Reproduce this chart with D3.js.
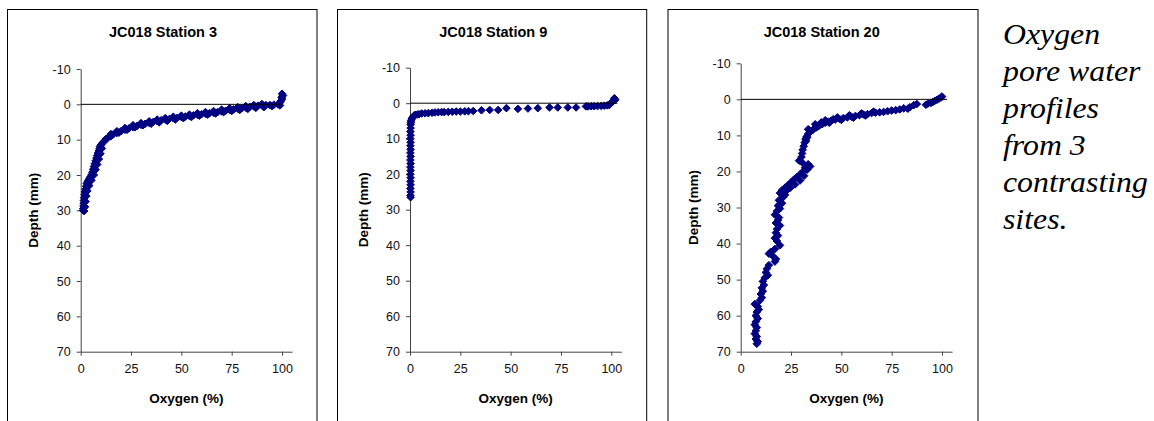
<!DOCTYPE html>
<html>
<head>
<meta charset="utf-8">
<script src="https://cdn.jsdelivr.net/npm/d3@7"></script>
<style>
  body { margin: 0; background: #fff; }
  svg { display: block; }
  .tick text { font-family: Arial, "Liberation Sans", sans-serif; font-size: 12.5px; fill: #111; }
  .axis path, .axis line { stroke: #444; }
  .title { font-family: Arial, "Liberation Sans", sans-serif; font-weight: bold; font-size: 14.5px; }
  .axtitle { font-family: Arial, "Liberation Sans", sans-serif; font-weight: bold; font-size: 13.5px; }
  .caption { font-family: "Liberation Serif", "Times New Roman", Times, serif; font-style: italic; font-size: 30px; }
</style>
</head>
<body>
<svg width="1154" height="421"></svg>
<script>
// Chart titles and shared axes
const titles = ["JC018 Station 3", "JC018 Station 9", "JC018 Station 20"];
const xTicks = [0, 25, 50, 75, 100];
const yTicks = [-10, 0, 10, 20, 30, 40, 50, 60, 70];
const captionLines = ["Oxygen", "pore water", "profiles", "from 3", "contrasting", "sites."];
// where the zero (sediment surface) line stops, in % oxygen
const zeroLineEnd = [100, 103, 102.5];

// [oxygen %, depth mm]
const station3 = [
  [100,-3],[100.5,-2.5],[99.8,-2],[100,-1.5],[99.5,-1],[99,-0.5],[98,0],[99,0.3],
  [96,0.1],[94,0.2],[92,0.2],[90,0.3],[88,0.4],[86,0.6],[84,0.7],[82,0.9],[80,1.1],[78,1.2],[76,1.4],
  [95,0.5],[91,0.8],[87,1.0],[83,1.3],[79,1.6],[75,1.9],[71,2.2],[67,2.6],[63,2.9],[59,3.2],[55,3.6],
  [90,-0.1],[86,0.2],[82,0.5],[78,0.8],[74,1.1],[70,1.5],[66,1.9],[62,2.2],[58,2.5],[54,2.9],
  [50,3.2],[46,3.5],[42,3.9],[38,4.3],[34,4.8],[30,5.3],[26,5.9],[22,6.7],[18,7.6],[15,8.4],
  [74,1.6],[72,1.8],[70,2.0],[68,2.2],[66,2.35],[64,2.5],[62,2.65],[60,2.8],[58,2.95],[56,3.1],[54,3.3],
  [52,3.45],[50,3.6],[48,3.8],[46,3.95],[44,4.15],[42,4.3],[40,4.5],[38,4.75],[36,5.0],[34,5.25],[32,5.5],
  [51,3.9],[47,4.3],[43,4.7],[39,5.1],[35,5.5],[31,5.9],[27,6.5],[23,7.2],[19,8.0],[15,9.0],[12.5,9.8],
  [30,5.8],[28,6.1],[26,6.45],[24,6.8],[22,7.2],[20,7.6],[18,8.1],[16,8.6],[14.5,9.1],[13,9.7],[12,10.3],
  [11,10.8],[10.2,11.4],[9.8,11.8],[9.6,12.0],[9.3,12.6],[9.0,13.2],[8.6,13.8],[8.2,14.5],[7.8,15.2],[7.4,16.0],
  [10.5,12.5],[9.8,14],[9.0,15.5],[8.2,17],[7.4,18.5],[6.5,20],[5.3,21.5],[4.2,23],[3.3,24.5],[2.7,26],
  [2.3,27.5],[2.0,29],[1.7,30.2],
  [7.0,16.8],[6.6,17.6],[6.2,18.4],[5.8,19.2],[5.3,20.0],[4.7,20.6],[4.1,21.2],[3.5,21.8],[3.0,22.4],
  [6.0,19.8],[4.9,21.5],[3.8,23.0],[3.0,24.5],[2.6,26.0],[2.2,27.5],[2.0,29.0],
  [2.7,23.2],[2.4,24.0],[2.1,24.8],[1.9,25.6],[1.7,26.4],[1.6,27.2],[1.5,28.0],[1.4,28.8],[1.3,29.5],[1.2,30.0]
];

const station9 = [
  [101.5,-1.4],[102,-1.0],[101,-0.6],[100,-0.2],[99,0.5],[98,0.6],[96.5,0.7],[95,0.75],[93.2,0.8],
  [91.5,0.85],[90,0.85],[88.5,0.9],[87.4,0.9],[82.5,1.2],[78.4,1.2],[73.4,1.2],[69.3,1.2],[63.5,1.4],
  [58.6,1.5],[53.6,1.6],[47.9,1.4],[43.8,1.9],[39.6,1.9],[35.5,2.0],[31.4,2.2],[29,2.25],[27.2,2.3],
  [25,2.35],[23,2.35],[21,2.4],[19,2.45],[17,2.5],[15.7,2.5],[14,2.55],[12.4,2.6],[11,2.7],[9.1,2.8],
  [7.5,2.85],[5.8,2.9],[4.5,3.1],[3.5,3.2],[2.5,3.3],[1.8,3.6],[1.2,4.0],[0.8,4.5],[0.5,5.0],[0.4,5.5],
  [0.3,6],[0.3,7],[0.2,8],[0.3,9],[0.2,10],[0.3,11],[0.2,12],[0.3,13],[0.2,14],[0.3,15],[0.2,16],
  [0.3,17],[0.2,18],[0.3,19],[0.2,20],[0.3,21],[0.2,22],[0.3,23],[0.2,24],[0.3,25],[0.2,26],[0.3,26.5]
];

const station20 = [
  [100,-0.8],[99.5,-0.5],[98.5,-0.2],[97.5,0.1],[96.5,0.4],[95.5,0.7],[94.5,1.0],[93,1.2],[92,1.5],
  [87.5,1.3],[86,1.6],[84,2.2],[83,2.6],[81,2.5],[79,2.8],[77,3.0],[75,3.1],[73,3.3],[71,3.5],[69,3.6],
  [67,3.7],[65,3.8],[63,4.1],[61,4.2],[59,4.4],[57,4.6],[55,4.8],[53,5.0],[51,5.2],[49,5.4],[47,5.6],
  [45,5.9],[43.5,6.2],[42,6.5],[40.5,6.9],[39,7.3],[37.5,7.8],[36,8.4],[34.5,9.0],[33.5,9.6],[32.8,10.3],
  [62,4.5],[56,5.1],[50,5.7],[44,6.5],[38,7.6],[35,8.8],[33,10.6],[32.5,11.5],[34,8.5],[40,6.4],[46,5.5],
  [66,3.4],[60,3.9],[54,4.4],[48,5.0],[42,5.8],[37,6.9],[33.5,8.3],
  [32.2,11.0],[31.8,12.0],[31.3,13.0],[30.8,14.0],[30.5,15.0],[30.2,16.0],[29,17.0],[30.5,17.5],
  [33.5,18.0],[34.5,18.6],[32,19.0],[33,19.5],[31,20.0],[29.5,20.8],[28,21.5],[26.5,22.2],[25,23.0],
  [31.5,21.2],[29.5,22.5],[27,23.6],[24.5,24.6],[22.5,25.5],
  [23.5,23.8],[22,24.5],[20.5,25.2],[19.5,26.0],[22,26.5],[21,27.2],[19,28.0],[20.5,28.8],[18.5,29.5],
  [19.5,30.3],[18,31.0],[17,32.0],[19,32.8],[18.5,33.5],[17.5,34.3],[19.5,35.0],[18,36.0],[17.5,37.0],
  [18.5,37.8],[17,38.5],[18,39.3],[19.5,40.5],[17,41.5],[15,42.3],[14,42.8],[16,43.5],[17.5,44.3],
  [17,45.0],[14,46.0],[13,47.0],[12.5,48.0],[13.5,48.8],[12,49.5],[11,50.5],[11.5,51.5],[10.5,52.3],
  [11,53.2],[10,54.0],[10.5,55.0],[9.5,55.8],[7,56.8],[8.5,57.5],[9,58.3],[8,59.0],[7.5,60.0],[8.5,60.8],
  [7.5,61.7],[7,62.5],[8,63.3],[7.5,64.2],[7,65.0],[8,65.8],[7.5,66.5],[8.5,67.2],[8,67.8]
];

const stations = [station3, station9, station20];

// panel layout: box, plot origin, top of y axis
const panels = [
  { box: [7.5, 9.5, 309.5], x0: 80.7, yTop: 69, titleX: 163 },
  { box: [337.5, 9.5, 309.2], x0: 410, yTop: 67.7, titleX: 493.3 },
  { box: [668, 9.5, 310], x0: 740.7, yTop: 63.3, titleX: 821.7 }
];
const yBottom = 351.7;
const pxPerPct = 2.013;

const svg = d3.select("svg");
const diamond = "M0,-3.8L3.8,0L0,3.8L-3.8,0Z";

panels.forEach(function(p, i) {
  const g = svg.append("g");

  // chart frame (bottom runs off the picture)
  g.append("rect")
    .attr("x", p.box[0]).attr("y", p.box[1])
    .attr("width", p.box[2]).attr("height", 430)
    .attr("fill", "none").attr("stroke", "#000").attr("stroke-width", 1);

  const x = d3.scaleLinear().domain([0, 105]).range([p.x0, p.x0 + 105 * pxPerPct]);
  const y = d3.scaleLinear().domain([-10, 70]).range([p.yTop, yBottom]);

  g.append("g")
    .attr("class", "axis")
    .attr("transform", "translate(0," + yBottom + ")")
    .call(d3.axisBottom(x).tickValues(xTicks).tickSize(4).tickSizeOuter(0).tickPadding(6)
      .tickFormat(d => String(d)))
    .call(a => a.selectAll(".tick text").attr("dy", "0.9em"));

  g.append("g")
    .attr("class", "axis")
    .attr("transform", "translate(" + p.x0 + ",0)")
    .call(d3.axisLeft(y).tickValues(yTicks).tickSize(4).tickSizeOuter(0).tickPadding(6)
      .tickFormat(d => String(d)));

  // data markers
  g.append("g")
    .selectAll("path")
    .data(stations[i])
    .join("path")
    .attr("d", diamond)
    .attr("transform", d => "translate(" + x(d[0]) + "," + y(d[1]) + ")")
    .attr("fill", "#000080")
    .attr("stroke", "#000080")
    .attr("stroke-width", 1)
    .attr("stroke-linejoin", "round");

  // sediment surface line
  g.append("line")
    .attr("x1", x(0)).attr("x2", x(zeroLineEnd[i]))
    .attr("y1", y(0)).attr("y2", y(0))
    .attr("stroke", "#000").attr("stroke-width", 1);

  g.append("text")
    .attr("class", "title")
    .attr("x", p.titleX).attr("y", 37)
    .attr("text-anchor", "middle")
    .text(titles[i]);

  g.append("text")
    .attr("class", "axtitle")
    .attr("x", (x(0) + x(105)) / 2).attr("y", 403)
    .attr("text-anchor", "middle")
    .text("Oxygen (%)");

  g.append("text")
    .attr("class", "axtitle")
    .attr("transform", "translate(" + (p.x0 - 42.5) + "," + ((p.yTop + yBottom) / 2) + ") rotate(-90)")
    .attr("text-anchor", "middle")
    .text("Depth (mm)");
});

// side caption (slightly stretched horizontally like the original)
svg.append("text")
  .attr("class", "caption")
  .attr("transform", "translate(1003,0) scale(1.06,1)")
  .selectAll("tspan")
  .data(captionLines)
  .join("tspan")
  .attr("x", 0)
  .attr("y", (d, i) => 44 + i * 37)
  .text(d => d);
</script>
</body>
</html>
